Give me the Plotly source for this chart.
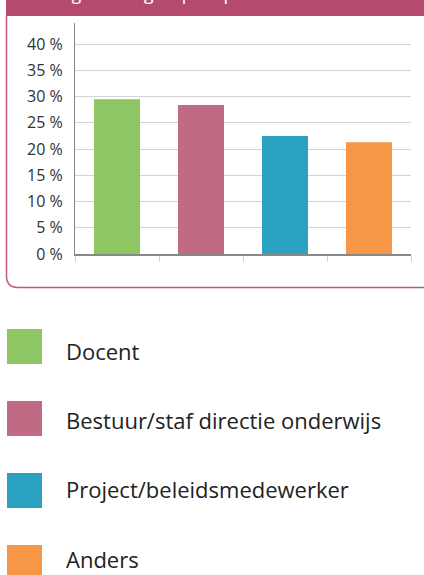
import plotly.graph_objects as go

# Data
categories = ["Docent", "Bestuur/staf directie onderwijs", "Project/beleidsmedewerker", "Anders"]
percentages = [29.5, 28.4, 22.5, 21.3]
colors = ["#8dc663", "#c06a84", "#2ba3c0", "#f79646"]
y_tick_values = [0, 5, 10, 15, 20, 25, 30, 35, 40]
y_tick_labels = ["0 %", "5 %", "10 %", "15 %", "20 %", "25 %", "30 %", "35 %", "40 %"]
header_text = "Verdeling functiegroep respondenten naar functie"

W, H = 424, 575
M_L, M_R, M_T, M_B = 75, 13, 23, 321
PLOT_W = W - M_L - M_R
PLOT_H = H - M_T - M_B


def px(x):
    return (x - M_L) / PLOT_W


def py(y):
    return (H - M_B - y) / PLOT_H


fig = go.Figure(go.Bar(
    x=categories,
    y=percentages,
    marker=dict(color=colors, line=dict(width=0)),
    hoverinfo="skip",
))

shapes = []
annotations = []

# pink header band and rounded frame
shapes.append(dict(type="rect", xref="paper", yref="paper",
                   x0=px(6), x1=px(W + 5), y0=py(16), y1=py(-5),
                   fillcolor="#b44b6e", line=dict(width=0), layer="below"))
frame = (f"M {px(6.5)},{py(16)} L {px(6.5)},{py(276)} "
         f"Q {px(6.5)},{py(287.5)} {px(18)},{py(287.5)} L {px(W + 5)},{py(287.5)}")
shapes.append(dict(type="path", xref="paper", yref="paper", path=frame,
                   line=dict(color="#c0587a", width=1.5), layer="below"))
annotations.append(dict(xref="paper", yref="paper", x=px(W / 2), y=py(-7),
                        text=header_text, showarrow=False, xanchor="center", yanchor="middle",
                        font=dict(family="Open Sans", size=18, color="white")))

# custom legend below the chart
for i, (name, c) in enumerate(zip(categories, colors)):
    top = 329 + 72 * i
    shapes.append(dict(type="rect", xref="paper", yref="paper",
                       x0=px(7), x1=px(42), y0=py(top + 35), y1=py(top),
                       fillcolor=c, line=dict(width=0)))
    annotations.append(dict(xref="paper", yref="paper", x=px(64), y=py(351 + 69.2 * i),
                            text=name, showarrow=False, xanchor="left", yanchor="middle",
                            font=dict(family="Open Sans", size=22, color="#222")))

fig.update_layout(
    width=W, height=H,
    margin=dict(l=M_L, r=M_R, t=M_T, b=M_B),
    paper_bgcolor="white", plot_bgcolor="white",
    showlegend=False,
    bargap=0.452,
    shapes=shapes,
    annotations=annotations,
    font=dict(family="Open Sans", color="#333"),
)
fig.update_xaxes(
    showticklabels=False, showgrid=False,
    tickson="boundaries", ticks="outside", ticklen=6, tickcolor="#d0d0d0",
    showline=True, linecolor="#888", linewidth=1.5,
    layer="above traces",
)
fig.update_yaxes(
    range=[0, 44], tickmode="array", tickvals=y_tick_values, ticktext=y_tick_labels,
    tickfont=dict(size=16, color="#333"),
    showgrid=True, gridcolor="rgba(0,0,0,0.17)", gridwidth=1,
    showline=True, linecolor="#888", linewidth=1,
    zeroline=False, ticks="", ticklabelstandoff=8,
    layer="above traces",
)

fig.write_html("out.html", config={"displayModeBar": False},
               post_script="document.body.style.margin='0';")
